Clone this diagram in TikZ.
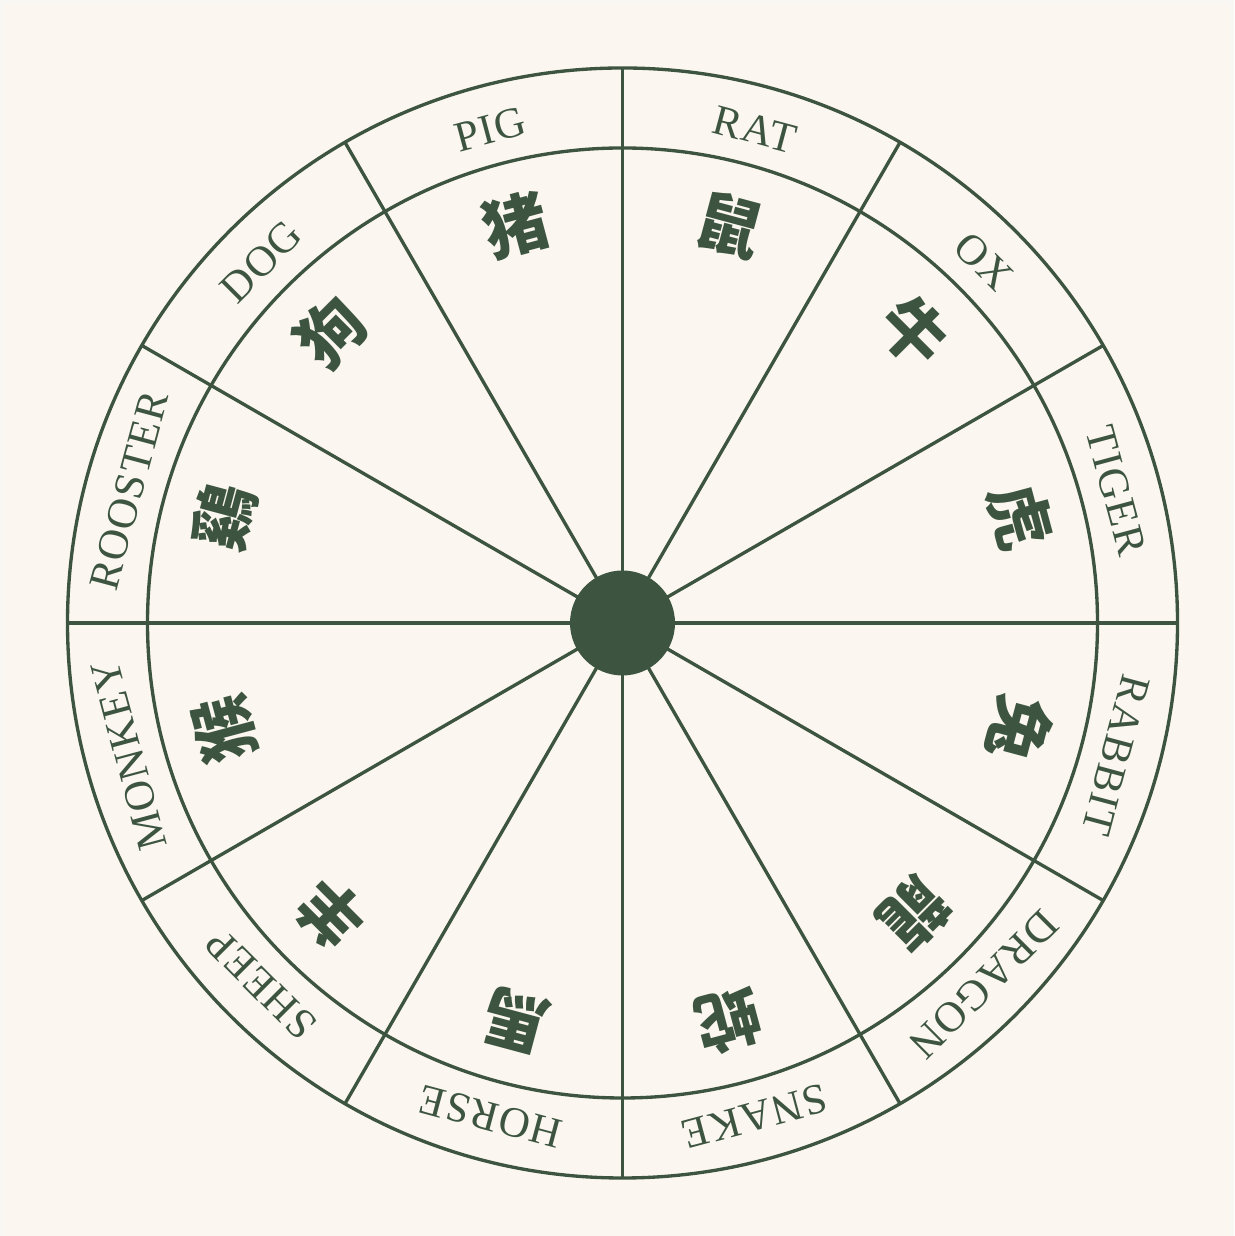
\documentclass[tikz,border=0pt]{standalone}
\usepackage{fontspec}
\usetikzlibrary{calc}
\setmainfont{Liberation Serif}[LetterSpace=3]
\newfontfamily\cjk{Noto Sans CJK TC}
\definecolor{ink}{HTML}{3D5540}
\definecolor{paper}{HTML}{FBF7F0}
\definecolor{rim}{HTML}{F8F7F3}
\begin{document}
\begin{tikzpicture}[
  ringline/.style={draw=ink, line width=0.95pt},
  animal/.style={text=ink, font=\fontsize{12.2}{14}\selectfont, inner sep=0pt, anchor=center},
  glyph/.style={text=ink, font=\cjk\bfseries\fontsize{18.5}{21}\selectfont, inner sep=0pt, anchor=center}
]
\fill[rim] (0,0) rectangle (12.34,12.36);
\fill[paper] (0.04,0.0) rectangle (12.30,12.32);
\useasboundingbox (0,0) rectangle (12.34,12.36);
\coordinate (c) at (6.225,6.13);
\draw[ringline] (c) circle (5.55);
\draw[ringline] (c) circle (4.75);
\foreach \a in {0,30,...,330}{
  \coordinate (s\a) at ($(c)+(\a:5.55)$);
  \draw[ringline] (c) -- (s\a);
}
\fill[ink] (c) circle (0.525);
\foreach \ang/\nm/\ch [count=\i] in {75/RAT/鼠,45/OX/牛,15/TIGER/虎,-15/RABBIT/兔,-45/DRAGON/龍,-75/SNAKE/蛇,-105/HORSE/馬,-135/SHEEP/羊,-165/MONKEY/猴,165/ROOSTER/鷄,135/DOG/狗,105/PIG/猪}{
  \node[animal, rotate=\ang-90] (l\i) at ($(c)+(\ang:5.11)$) {\nm};
  \node[glyph, rotate=\ang-90] (g\i) at ($(c)+(\ang:4.12)$) {\ch};
}
\end{tikzpicture}
\end{document}
